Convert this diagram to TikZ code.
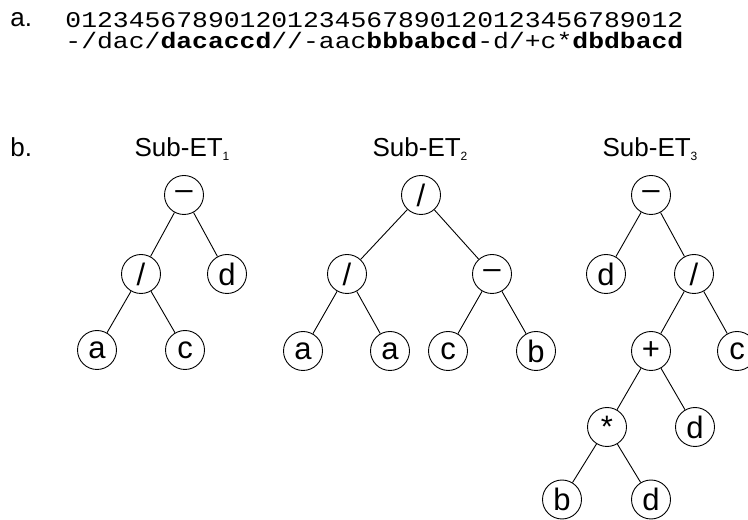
\documentclass[tikz,border=0pt]{standalone}
\usepackage{fontspec}
\setmainfont{Liberation Sans}
\setmonofont{Liberation Mono}
\newcommand{\etsub}[1]{\raisebox{-0.15em}{\fontsize{12bp}{12bp}\selectfont #1}}
\newcommand{\codeline}[1]{\scalebox{1}[0.85]{#1}}
\begin{document}
\begin{tikzpicture}[line join=bevel,line width=0.9bp,
    every node/.style={font=\fontsize{26bp}{30bp}\selectfont},
    op/.style={draw,circle,inner sep=0pt,minimum size=39bp,font=\fontsize{31bp}{32bp}\selectfont},
    txt/.style={anchor=base west,inner sep=0pt},
    code/.style={txt,text depth=0pt,font=\fontsize{26.4bp}{28bp}\selectfont\ttfamily}]
        \useasboundingbox (0bp,0bp) rectangle (748bp,520bp);
        %%
        \node (la) at (10.0bp,493.0bp) [txt] {a.};
        \node (lb) at (10.0bp,363.0bp) [txt] {b.};
        \node (idx) at (65.0bp,492.0bp) [code] {\codeline{012345678901201234567890120123456789012}};
        \node (seq) at (65.0bp,471.0bp) [code] {\codeline{-/dac/\textbf{dacaccd}//-aac\textbf{bbbabcd}-d/+c*\textbf{dbdbacd}}};
        %%
        \node (et1) at (182.0bp,363.0bp) [anchor=base,inner sep=0pt] {Sub-ET\etsub{1}};
        \node (et2) at (420.0bp,363.0bp) [anchor=base,inner sep=0pt] {Sub-ET\etsub{2}};
        \node (et3) at (650.0bp,363.0bp) [anchor=base,inner sep=0pt] {Sub-ET\etsub{3}};
        %% sub-ET 1
        \node (a1) at (184.0bp,325.0bp) [op] {–};
        \node (a2) at (141.0bp,246.0bp) [op] {/};
        \node (a3) at (227.0bp,246.0bp) [op] {d};
        \node (a4) at (97.0bp,170.0bp) [op] {a};
        \node (a5) at (185.0bp,170.0bp) [op] {c};
        %% sub-ET 2
        \node (b1) at (421.0bp,325.0bp) [op] {/};
        \node (b2) at (347.0bp,246.0bp) [op] {/};
        \node (b3) at (492.0bp,246.0bp) [op] {–};
        \node (b4) at (303.0bp,169.0bp) [op] {a};
        \node (b5) at (390.0bp,169.0bp) [op] {a};
        \node (b6) at (448.0bp,169.0bp) [op] {c};
        \node (b7) at (536.0bp,169.0bp) [op] {b};
        %% sub-ET 3
        \node (c1) at (651.0bp,325.0bp) [op] {–};
        \node (c2) at (606.0bp,246.0bp) [op] {d};
        \node (c3) at (694.0bp,246.0bp) [op] {/};
        \node (c4) at (651.0bp,169.0bp) [op] {+};
        \node (c5) at (737.0bp,169.0bp) [op] {c};
        \node (c6) at (607.0bp,93.0bp) [op] {*};
        \node (c7) at (695.0bp,93.0bp) [op] {d};
        \node (c8) at (562.0bp,20.5bp) [op] {b};
        \node (c9) at (651.0bp,20.5bp) [op] {d};
        %%
        \draw [] (a1) -- (a2);
        \draw [] (a1) -- (a3);
        \draw [] (a2) -- (a4);
        \draw [] (a2) -- (a5);
        \draw [] (b1) -- (b2);
        \draw [] (b1) -- (b3);
        \draw [] (b2) -- (b4);
        \draw [] (b2) -- (b5);
        \draw [] (b3) -- (b6);
        \draw [] (b3) -- (b7);
        \draw [] (c1) -- (c2);
        \draw [] (c1) -- (c3);
        \draw [] (c3) -- (c4);
        \draw [] (c3) -- (c5);
        \draw [] (c4) -- (c6);
        \draw [] (c4) -- (c7);
        \draw [] (c6) -- (c8);
        \draw [] (c6) -- (c9);
        %
\end{tikzpicture}
\end{document}
